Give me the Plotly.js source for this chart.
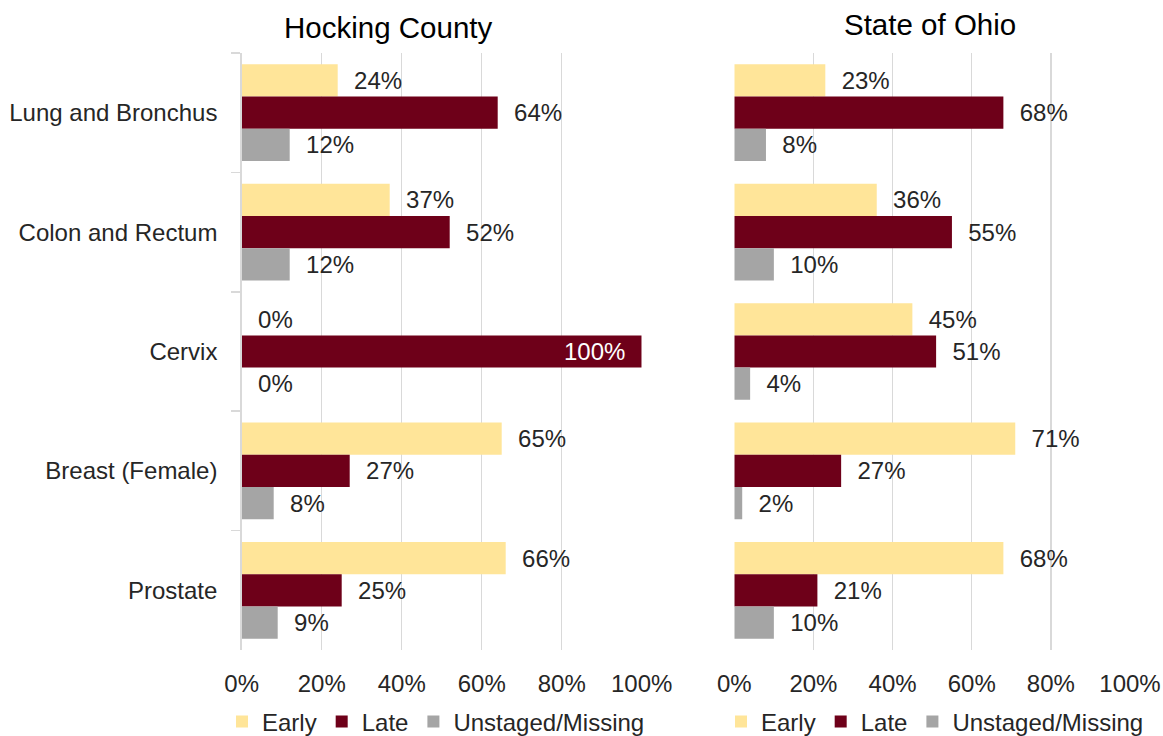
<!DOCTYPE html>
<html>
<head>
<meta charset="utf-8">
<script src="https://cdn.plot.ly/plotly-3.0.1.min.js"></script>
<style>html,body{margin:0;padding:0;background:#fff}#chart{width:1163px;height:736px}</style>
</head>
<body>
<div id="chart"></div>
<script>
// ---- data ----
const categories = ["Lung and Bronchus", "Colon and Rectum", "Cervix", "Breast (Female)", "Prostate"];
const seriesNames = ["Early", "Late", "Unstaged/Missing"];
const panelTitles = ["Hocking County", "State of Ohio"];

const hockingEarly = [24, 37, 0, 65, 66];
const hockingLate = [64, 52, 100, 27, 25];
const hockingUnstaged = [12, 12, 0, 8, 9];

const ohioEarly = [23, 36, 45, 71, 68];
const ohioLate = [68, 55, 51, 27, 21];
const ohioUnstaged = [8, 10, 4, 2, 10];

const xTickVals = [0, 20, 40, 60, 80, 100];
const xTickText = ["0%", "20%", "40%", "60%", "80%", "100%"];

// ---- style ----
const colors = ["#FFE599", "#6E0019", "#A5A5A5"];
const FONT = "Liberation Sans, Arial, sans-serif";
const TXT = "#262626";
const FS = 24;
const NB = "\u00A0\u00A0";

function barTrace(vals, idx, xa, ya, legend) {
  const positions = vals.map(v => v >= 100 ? "inside" : "outside");
  const labels = vals.map(v => v >= 100 ? v + "%" + NB : NB + v + "%");
  return {
    type: "bar",
    orientation: "h",
    name: seriesNames[idx],
    x: vals,
    y: categories,
    xaxis: xa,
    yaxis: ya,
    legend: legend,
    marker: {color: colors[idx], line: {width: 0}},
    text: labels,
    textposition: positions,
    insidetextanchor: "end",
    textangle: 0,
    constraintext: "none",
    cliponaxis: false,
    outsidetextfont: {family: FONT, size: FS, color: TXT},
    insidetextfont: {family: FONT, size: FS, color: "#ffffff"},
    hoverinfo: "x+y+name"
  };
}

const data = [
  barTrace(hockingEarly, 0, "x", "y", "legend"),
  barTrace(hockingLate, 1, "x", "y", "legend"),
  barTrace(hockingUnstaged, 2, "x", "y", "legend"),
  barTrace(ohioEarly, 0, "x2", "y2", "legend2"),
  barTrace(ohioLate, 1, "x2", "y2", "legend2"),
  barTrace(ohioUnstaged, 2, "x2", "y2", "legend2")
];

const W = 1163, H = 736;
const yDom = [(H - 650) / H, (H - 53) / H];

const xCommon = {
  range: [0, 100],
  tickvals: xTickVals,
  ticktext: xTickText,
  showgrid: true,
  gridcolor: "#D9D9D9",
  gridwidth: 1.5,
  zeroline: false,
  showline: false,
  ticks: "",
  ticklabelstandoff: 17,
  tickfont: {family: FONT, size: FS, color: TXT},
  fixedrange: true
};

const layout = {
  width: W,
  height: H,
  margin: {l: 0, r: 0, t: 0, b: 0, pad: 0, autoexpand: false},
  paper_bgcolor: "#ffffff",
  plot_bgcolor: "rgba(0,0,0,0)",
  barmode: "group",
  bargap: 0.19,
  bargroupgap: 0,
  font: {family: FONT, size: FS, color: TXT},
  xaxis: Object.assign({}, xCommon, {domain: [241.7 / W, 641.7 / W], anchor: "y"}),
  xaxis2: Object.assign({}, xCommon, {domain: [734.3 / W, 1130 / W], anchor: "y2"}),
  yaxis: {
    domain: yDom,
    anchor: "x",
    type: "category",
    autorange: "reversed",
    showline: true,
    linecolor: "#D9D9D9",
    linewidth: 1.5,
    ticks: "outside",
    tickson: "boundaries",
    ticklen: 9,
    tickcolor: "#D9D9D9",
    tickwidth: 1.5,
    ticklabelstandoff: 18,
    showgrid: false,
    zeroline: false,
    tickfont: {family: FONT, size: FS, color: TXT},
    fixedrange: true
  },
  yaxis2: {
    domain: yDom,
    anchor: "x2",
    type: "category",
    autorange: "reversed",
    showline: false,
    showticklabels: false,
    ticks: "",
    showgrid: false,
    zeroline: false,
    fixedrange: true
  },
  showlegend: true,
  legend: {
    orientation: "h",
    x: 222 / W, xanchor: "left",
    y: (H - 722) / H, yanchor: "middle",
    font: {family: FONT, size: FS, color: TXT},
    bgcolor: "rgba(0,0,0,0)",
    traceorder: "normal"
  },
  legend2: {
    orientation: "h",
    x: 721 / W, xanchor: "left",
    y: (H - 722) / H, yanchor: "middle",
    font: {family: FONT, size: FS, color: TXT},
    bgcolor: "rgba(0,0,0,0)",
    traceorder: "normal"
  },
  annotations: [
    {text: panelTitles[0], xref: "paper", yref: "paper", x: 388 / W, y: (H - 28) / H,
     xanchor: "center", yanchor: "middle", showarrow: false,
     font: {family: FONT, size: 29.5, color: "#000000"}},
    {text: panelTitles[1], xref: "paper", yref: "paper", x: 930 / W, y: (H - 25) / H,
     xanchor: "center", yanchor: "middle", showarrow: false,
     font: {family: FONT, size: 29.5, color: "#000000"}}
  ]
};

Plotly.newPlot("chart", data, layout, {displayModeBar: false, staticPlot: true});
</script>
</body>
</html>
